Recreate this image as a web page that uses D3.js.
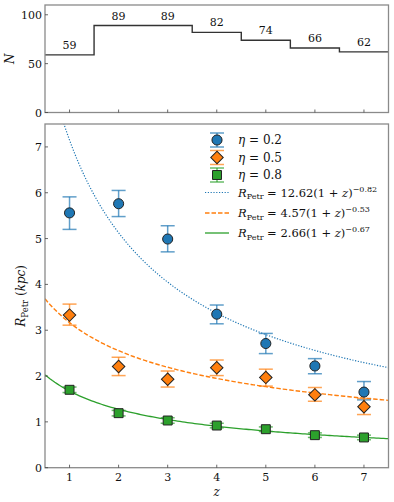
<!DOCTYPE html>
<html>
<head>
<meta charset="utf-8">
<script src="https://cdn.jsdelivr.net/npm/d3@7"></script>
<style>
  body { margin: 0; background: #fff; }
  text { font-family: "DejaVu Serif", serif; fill: #111; }
</style>
</head>
<body>
<svg id="chart" width="394" height="502"></svg>
<script>
// donnees
const zVals = [1, 2, 3, 4, 5, 6, 7]
const nCounts = [59, 89, 89, 82, 74, 66, 62]

const r02 = [5.56, 5.76, 4.99, 3.35, 2.71, 2.22, 1.65]
const r02Lo = [5.20, 5.48, 4.71, 3.14, 2.49, 2.05, 1.48]
const r02Hi = [5.91, 6.05, 5.28, 3.55, 2.93, 2.38, 1.88]

const r05 = [3.33, 2.21, 1.93, 2.18, 1.97, 1.59, 1.33]
const r05Lo = [3.11, 2.01, 1.76, 2.01, 1.78, 1.45, 1.16]
const r05Hi = [3.57, 2.41, 2.11, 2.35, 2.15, 1.75, 1.51]

const r08 = [1.70, 1.19, 1.03, 0.92, 0.84, 0.71, 0.66]
const r08Lo = [1.64, 1.13, 0.97, 0.87, 0.79, 0.66, 0.61]
const r08Hi = [1.76, 1.25, 1.09, 0.97, 0.89, 0.76, 0.71]

// fits R = a (1+z)^b
const fitA = [12.62, 4.57, 2.66]
const fitB = [-0.82, -0.53, -0.67]

const xTicks = [1, 2, 3, 4, 5, 6, 7]
const nTicks = [0, 50, 100]
const rTicks = [0, 1, 2, 3, 4, 5, 6, 7]

const blue = "#1f77b4", orange = "#ff7f0e", green = "#2ca02c"
const spine = "#8a8a8a"

const svg = d3.select("#chart")
const left = 45, right = 388.5

const x = d3.scaleLinear().domain([0.5, 7.5]).range([left, right])
const yN = d3.scaleLinear().domain([0, 110]).range([112.5, 5])
const yR = d3.scaleLinear().domain([0, 7.5]).range([467.7, 124])

function frame(y) {
  const [b, t] = y.range()
  svg.append("rect").attr("x", left).attr("y", t).attr("width", right - left).attr("height", b - t)
    .attr("fill", "none").attr("stroke", spine).attr("stroke-width", 1.3)
}

function ticks(y, yt, showX) {
  const b = y.range()[0]
  const g = svg.append("g")
  xTicks.forEach(v => {
    g.append("line").attr("x1", x(v)).attr("x2", x(v)).attr("y1", b).attr("y2", b - 3)
      .attr("stroke", "#444").attr("stroke-width", 0.8)
    if (showX) g.append("text").attr("x", x(v)).attr("y", b + 13).attr("text-anchor", "middle")
      .style("font-size", "11px").text(v)
  })
  yt.forEach(v => {
    g.append("line").attr("x1", left).attr("x2", left + 3).attr("y1", y(v)).attr("y2", y(v))
      .attr("stroke", "#444").attr("stroke-width", 0.8)
    g.append("text").attr("x", left - 3).attr("y", y(v) + 4).attr("text-anchor", "end")
      .style("font-size", "11px").text(v)
  })
}

// panneau du haut : histogramme en escalier
const stepPts = zVals.map((z, i) => [z - 0.5, nCounts[i]])
stepPts.push([zVals[zVals.length - 1] + 0.5, nCounts[nCounts.length - 1]])
const stepLine = d3.line().x(d => x(d[0])).y(d => yN(d[1])).curve(d3.curveStepAfter)

svg.append("path").attr("d", stepLine(stepPts)).attr("fill", "none")
  .attr("stroke", "#333").attr("stroke-width", 1.4)

svg.append("g").selectAll("text").data(zVals).join("text")
  .attr("x", d => x(d)).attr("y", (d, i) => yN(nCounts[i]) - 6)
  .attr("text-anchor", "middle").style("font-size", "11px")
  .text((d, i) => nCounts[i])

frame(yN)
ticks(yN, nTicks, false)

svg.append("text").attr("transform", `translate(14,${(5 + 112.5) / 2}) rotate(-90)`)
  .attr("text-anchor", "middle").style("font-size", "12px").style("font-style", "italic").text("N")

// panneau du bas
svg.append("clipPath").attr("id", "clipR").append("rect")
  .attr("x", left).attr("y", 124).attr("width", right - left).attr("height", 467.7 - 124)

const fitStyles = [
  { color: blue, dash: "1.2,1.6", w: 1.2 },
  { color: orange, dash: "4.5,2", w: 1.4 },
  { color: green, dash: null, w: 1.3 }
]
const zGrid = d3.range(0.5, 7.501, 0.05)
const fitLine = d3.line().x(d => x(d[0])).y(d => yR(d[1]))
fitA.forEach((a, k) => {
  const pts = zGrid.map(z => [z, a * Math.pow(1 + z, fitB[k])])
  svg.append("path").attr("d", fitLine(pts)).attr("clip-path", "url(#clipR)")
    .attr("fill", "none").attr("stroke", fitStyles[k].color)
    .attr("stroke-width", fitStyles[k].w).attr("stroke-dasharray", fitStyles[k].dash)
})

// losange = carre tourne de 45 degres
const series = [
  { v: r02, lo: r02Lo, hi: r02Hi, color: blue, shape: d3.symbolCircle, size: 80, rot: 0 },
  { v: r05, lo: r05Lo, hi: r05Hi, color: orange, shape: d3.symbolSquare, size: 78, rot: 45 },
  { v: r08, lo: r08Lo, hi: r08Hi, color: green, shape: d3.symbolSquare, size: 80, rot: 0 }
]

function errBar(g, cx, y1, y2, color) {
  g.append("line").attr("x1", cx).attr("x2", cx).attr("y1", y1).attr("y2", y2)
    .attr("stroke", color).attr("stroke-width", 1.5).attr("opacity", 0.7)
  ;[y1, y2].forEach(yy => g.append("line").attr("x1", cx - 7).attr("x2", cx + 7)
    .attr("y1", yy).attr("y2", yy).attr("stroke", color).attr("stroke-width", 1.5).attr("opacity", 0.7))
}

series.forEach(s => {
  const g = svg.append("g")
  zVals.forEach((z, i) => errBar(g, x(z), yR(s.lo[i]), yR(s.hi[i]), s.color))
  g.selectAll("path").data(zVals).join("path")
    .attr("d", d3.symbol().type(s.shape).size(s.size))
    .attr("transform", (d, i) => `translate(${x(d)},${yR(s.v[i])}) rotate(${s.rot})`)
    .attr("fill", s.color).attr("stroke", "#222").attr("stroke-width", 1)
})

frame(yR)
ticks(yR, rTicks, true)

svg.append("text").attr("x", x(4)).attr("y", 496).attr("text-anchor", "middle")
  .style("font-size", "12px").style("font-style", "italic").text("z")

const yl = svg.append("text").attr("transform", `translate(25,${(124 + 467.7) / 2}) rotate(-90)`)
  .attr("text-anchor", "middle").style("font-size", "12px")
yl.append("tspan").style("font-style", "italic").text("R")
yl.append("tspan").attr("dy", 3).style("font-size", "8.5px").text("Petr")
yl.append("tspan").attr("dy", -3).text(" (")
yl.append("tspan").style("font-style", "italic").text("kpc")
yl.append("tspan").text(")")

// legende
const leg = svg.append("g")
const legX = 217, legTx = 238
const etas = ["0.2", "0.5", "0.8"]
const legY = [140, 157.5, 175]
series.forEach((s, k) => {
  const yy = legY[k]
  errBar(leg, legX, yy - 7, yy + 7, s.color)
  leg.append("path").attr("d", d3.symbol().type(s.shape).size(s.size))
    .attr("transform", `translate(${legX},${yy}) rotate(${s.rot})`)
    .attr("fill", s.color).attr("stroke", "#222").attr("stroke-width", 1)
  const t = leg.append("text").attr("x", legTx).attr("y", yy + 4).style("font-size", "12px")
  t.append("tspan").style("font-style", "italic").text("η")
  t.append("tspan").text(" = " + etas[k])
})
const fitY = [192.5, 213, 233]
fitA.forEach((a, k) => {
  const yy = fitY[k]
  leg.append("line").attr("x1", 205).attr("x2", 229).attr("y1", yy).attr("y2", yy)
    .attr("stroke", fitStyles[k].color).attr("stroke-width", fitStyles[k].w)
    .attr("stroke-dasharray", fitStyles[k].dash)
  const t = leg.append("text").attr("x", legTx).attr("y", yy + 4).style("font-size", "11.5px")
  t.append("tspan").style("font-style", "italic").text("R")
  t.append("tspan").attr("dy", 2.5).style("font-size", "8px").text("Petr")
  t.append("tspan").attr("dy", -2.5).text(" = " + a.toFixed(2) + "(1 + ")
  t.append("tspan").style("font-style", "italic").text("z")
  t.append("tspan").text(")")
  t.append("tspan").attr("dy", -5).style("font-size", "8px").text("−" + Math.abs(fitB[k]).toFixed(2))
})
</script>
</body>
</html>
